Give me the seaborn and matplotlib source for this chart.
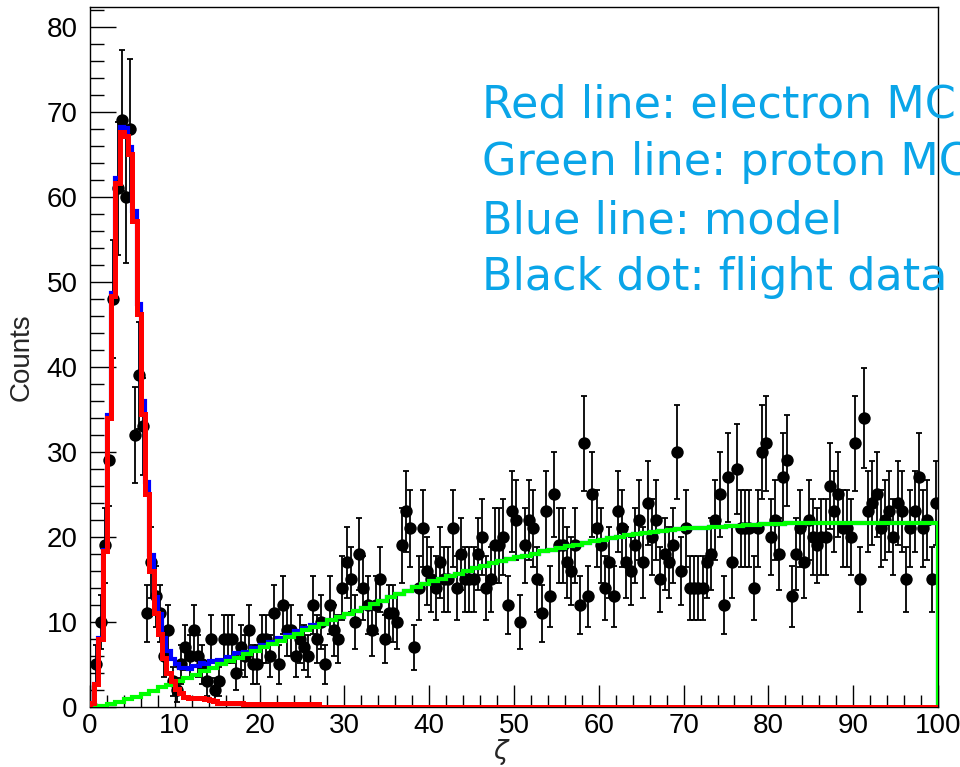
import numpy as np
import matplotlib
matplotlib.use("Agg")
import matplotlib.pyplot as plt
from matplotlib.ticker import MultipleLocator
import seaborn as sns

# flight data, 0.5 wide bins from 0 to 100
counts = [0, 5, 10, 19, 29, 48, 61, 69, 60, 68, 32, 39, 33,
          11, 17, 13, 11, 6, 9, 3, 2, 5, 7, 6, 9, 6, 5, 3, 8, 2, 3, 8, 8, 8, 4, 7, 6, 9,
          5, 5, 8, 8, 6, 11, 5, 12, 9, 9, 6, 8, 7, 6, 12, 8, 10, 5,
          12, 9, 8, 14, 17, 15, 10, 18, 14, 12, 9,
          12, 15, 8, 11, 11, 10, 19, 23, 21, 7, 14, 21, 16, 15, 14, 17, 15, 15, 21, 14,
          18, 15, 15, 15, 18, 20, 14, 15, 19, 19, 20, 12, 23,
          22, 10, 19, 22, 21, 15, 11, 23, 13, 25, 19, 19, 17, 16, 19, 12, 31,
          13, 25, 21, 19, 14, 17, 13, 23, 21, 17, 16, 19, 22, 17, 24, 20, 22, 15, 18, 17,
          19, 30, 16, 21, 14, 14, 14, 14, 17, 18, 22, 25, 12, 27, 17, 28, 21, 21, 21, 14,
          21, 30,
          31, 20, 22, 18, 27, 29, 13, 18, 21, 17, 22, 20, 19, 20, 20, 26, 23, 25, 21, 21,
          20, 31, 15, 34, 23, 24, 25, 21, 22, 23, 20, 24, 23, 15, 21, 23, 27, 21, 22, 15, 24]

# electron MC, 0.5 wide bins from 0 to 30 (zero above)
electron_mc = [0.5, 2.7, 8.0, 18.4, 34.0, 48.4, 61.6, 67.6, 67.2, 65.0,
               57.2, 46.2, 34.5, 25.0, 16.0, 11.0, 8.6, 5.8, 4.0, 3.0,
               2.1, 1.6, 1.2, 1.1, 1.0, 1.0, 1.0, 0.9, 0.8, 0.7,
               0.5, 0.5, 0.5, 0.5, 0.5, 0.5, 0.3, 0.3, 0.3, 0.3,
               0.3, 0.3, 0.3, 0.3, 0.3, 0.3, 0.3, 0.3, 0.3, 0.3,
               0.3, 0.3, 0.3, 0.3, 0.0, 0.0, 0.0, 0.0, 0.0, 0.0]

# proton MC, 1 wide bins from 0 to 100
proton_mc = [0.0, 0.1, 0.3, 0.6, 0.9, 1.2, 1.5, 1.9, 2.3, 2.6,
             3.0, 3.4, 3.8, 4.2, 4.6, 5.0, 5.4, 5.8, 6.2, 6.6,
             7.0, 7.4, 7.8, 8.2, 8.6, 9.0, 9.4, 9.8, 10.2, 10.6,
             10.9, 11.3, 11.7, 12.1, 12.5, 12.9, 13.3, 13.7, 14.1, 14.5,
             14.8, 15.1, 15.4, 15.7, 16.0, 16.3, 16.6, 16.9, 17.2, 17.4,
             17.6, 17.8, 18.0, 18.3, 18.5, 18.7, 18.9, 19.1, 19.3, 19.5,
             19.7, 19.9, 20.0, 20.2, 20.3, 20.5, 20.6, 20.7, 20.8, 20.9,
             21.0, 21.1, 21.1, 21.2, 21.2, 21.3, 21.3, 21.4, 21.4, 21.5,
             21.5, 21.5, 21.6, 21.6, 21.6, 21.6, 21.6, 21.6, 21.6, 21.6,
             21.6, 21.6, 21.6, 21.6, 21.6, 21.6, 21.6, 21.6, 21.6, 21.6]

notes = ["Red line: electron MC", "Green line: proton MC",
         "Blue line: model", "Black dot: flight data"]

sns.set_style("ticks")
plt.rcParams['font.family'] = ['Liberation Sans Narrow', 'Liberation Sans', 'DejaVu Sans']

y = np.array(counts, dtype=float)
edges = np.arange(len(y) + 1) * 0.5
centers = edges[:-1] + 0.25
red = np.zeros(len(y))
red[:len(electron_mc)] = electron_mc
green = np.repeat(proton_mc, 2)
blue = red + green

fig = plt.figure(figsize=(9.6, 7.67), dpi=100)
ax = fig.add_axes([90 / 960, 1 - 707 / 767, 848 / 960, 700 / 767])

has = y > 0
ax.errorbar(centers[has], y[has], yerr=np.sqrt(y[has]), fmt='none', ecolor='black',
            elinewidth=1.3, capsize=2.5, capthick=1.3, zorder=2)
sns.scatterplot(x=centers, y=y, color='black', s=80, linewidth=0, ax=ax, zorder=3)

ax.stairs(blue, edges, baseline=0, color='#0000ff', lw=3, zorder=4)
ax.stairs(green, edges, baseline=0, color='#00ff00', lw=3, zorder=5)
ax.stairs(red, edges, baseline=0, color='#ff0000', lw=3.6, zorder=6)

ax.set_xlim(0, 100)
ax.set_ylim(0, 82.35)
ax.xaxis.set_major_locator(MultipleLocator(10))
ax.xaxis.set_minor_locator(MultipleLocator(2))
ax.yaxis.set_major_locator(MultipleLocator(10))
ax.yaxis.set_minor_locator(MultipleLocator(2))
ax.tick_params(which='both', direction='in', top=False, right=False, width=1, colors='black')
ax.tick_params(axis='y', which='major', length=19, pad=9, labelsize=20)
ax.tick_params(axis='y', which='minor', length=10)
ax.tick_params(axis='x', which='major', length=16, pad=4, labelsize=20)
ax.tick_params(axis='x', which='minor', length=9)
for s in ax.spines.values():
    s.set_visible(True)
    s.set_linewidth(1)
    s.set_color('black')

fig.text(22 / 960, 1 - 357 / 767, "Counts", rotation=90, ha='center', va='center', fontsize=20)
fig.text(500 / 960, 1 - 752 / 767, "ζ", ha='center', va='center', fontsize=19,
         family=['DejaVu Sans'], style='italic')

for k, t in enumerate(notes):
    fig.text(482 / 960, 1 - (118 + 57.5 * k) / 767, t, ha='left', va='baseline',
             fontsize=32, color='#0aa5e8', family=['DejaVu Sans'])

fig.savefig("out.png", dpi=100)
